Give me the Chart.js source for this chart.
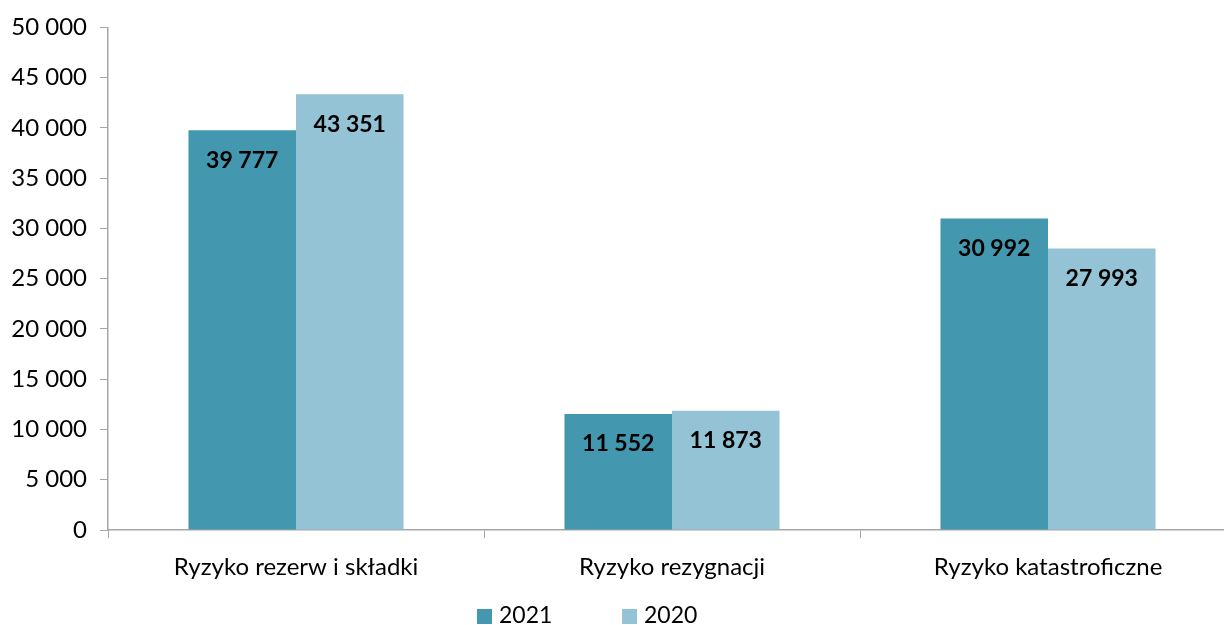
<!DOCTYPE html>
<html><head><meta charset="utf-8">
<script src="https://cdn.jsdelivr.net/npm/chart.js@4"></script>
<style>
html,body{margin:0;padding:0;overflow:hidden;background:#fff;width:1224px;height:625px}
#wrap{position:absolute;left:0;top:0;width:1236px;height:625px}
.lbox{position:absolute;top:609px;width:15px;height:15px}
.ltxt{position:absolute;top:601px;font-family:Lato,sans-serif;font-size:23px;color:#000;line-height:26px;white-space:nowrap}
</style></head>
<body>
<div id="wrap"><canvas id="c" width="1236" height="625"></canvas></div>
<div id="legend"></div>
<script>
const categories = ['Ryzyko rezerw i składki', 'Ryzyko rezygnacji', 'Ryzyko katastroficzne'];
const seriesNames = ['2021', '2020'];
const values2021 = [39777, 11552, 30992];
const values2020 = [43351, 11873, 27993];
const yTicks = [0, 5000, 10000, 15000, 20000, 25000, 30000, 35000, 40000, 45000, 50000];
const colors = ['#4398AF', '#93C3D5'];
const FONT = 'Lato, sans-serif';

const fmt = v => String(v).replace(/\B(?=(\d{3})+(?!\d))/g, ' ');

const legendEl = document.getElementById('legend');
const legendLefts = [477, 622];
seriesNames.forEach((n, i) => {
  const b = document.createElement('div');
  b.className = 'lbox';
  b.style.left = legendLefts[i] + 'px';
  b.style.background = colors[i];
  legendEl.appendChild(b);
  const t = document.createElement('div');
  t.className = 'ltxt';
  t.style.left = (legendLefts[i] + 22) + 'px';
  t.textContent = n;
  legendEl.appendChild(t);
});

const labelPlugin = {
  id: 'vals',
  afterDatasetsDraw(chart) {
    const ctx = chart.ctx;
    ctx.save();
    ctx.font = 'bold 23px ' + FONT;
    ctx.fillStyle = '#000';
    ctx.textAlign = 'center';
    ctx.textBaseline = 'middle';
    chart.data.datasets.forEach((ds, di) => {
      chart.getDatasetMeta(di).data.forEach((el, i) => {
        ctx.fillText(fmt(ds.data[i]), el.x, el.y + 30);
      });
    });
    ctx.restore();
  }
};

new Chart(document.getElementById('c'), {
  type: 'bar',
  data: {
    labels: categories,
    datasets: [
      { label: seriesNames[0], data: values2021, backgroundColor: colors[0] },
      { label: seriesNames[1], data: values2020, backgroundColor: colors[1] }
    ]
  },
  options: {
    responsive: false,
    animation: false,
    layout: { padding: { top: 23, right: 0, bottom: 0, left: 0 } },
    plugins: { legend: { display: false }, tooltip: { enabled: false } },
    datasets: { bar: { categoryPercentage: 0.572, barPercentage: 1 } },
    scales: {
      x: {
        grid: { offset: true, drawOnChartArea: false, drawTicks: true, tickLength: 8, color: '#A6A6A6', tickColor: '#A6A6A6' },
        border: { display: true, color: '#A6A6A6', width: 1.5 },
        ticks: { font: { family: FONT, size: 24 }, color: '#000', padding: 15, maxRotation: 0 },
        afterFit(s) { s.height = 95; }
      },
      y: {
        min: 0, max: 50000,
        afterBuildTicks(s) { s.ticks = yTicks.map(v => ({ value: v })); },
        grid: { drawOnChartArea: false, drawTicks: true, tickLength: 8, color: '#A6A6A6', tickColor: '#A6A6A6' },
        border: { display: true, color: '#A6A6A6', width: 1.5 },
        ticks: { font: { family: FONT, size: 24 }, color: '#000', padding: 13, callback: v => fmt(v) },
        afterFit(s) { s.width = 108; }
      }
    }
  },
  plugins: [labelPlugin]
});
</script>
</body></html>
